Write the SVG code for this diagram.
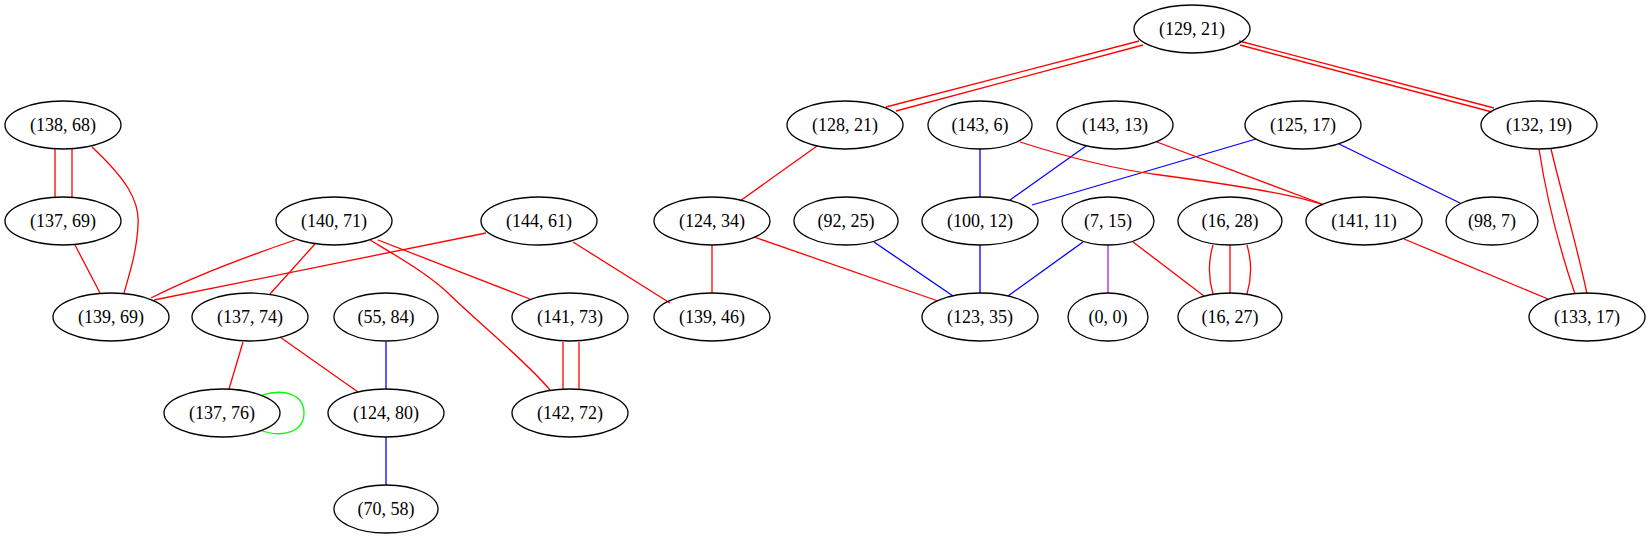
<svg xmlns="http://www.w3.org/2000/svg" width="1651" height="539" viewBox="0 0 1651 539">
<style>
.n ellipse{fill:none;stroke:#000;stroke-width:1.3}
.n text{font-family:"Liberation Serif","Times New Roman",serif;font-size:18px;text-anchor:middle;fill:#000}
#edges path{fill:none;stroke-width:1.3}
.r{stroke:#ff0000}.b{stroke:#0000ff}.g{stroke:#00ff00}.p{stroke:#a020f0}
</style>
<rect width="1651" height="539" fill="#fff"/>
<g id="edges">
<path class="r" d="M1139,41 L886,107"/>
<path class="r" d="M1143,45 L896,111"/>
<path class="r" d="M1239,41 L1494,108"/>
<path class="r" d="M1240,45 L1492,112"/>
<path class="r" d="M55,149 L55,198"/>
<path class="r" d="M72,149 L72,198"/>
<path class="r" d="M92,147 C125,178 140,200 138,225 C137,250 130,272 124,293"/>
<path class="r" d="M75,245 L100,293"/>
<path class="r" d="M295,240 Q204,271 151,298"/>
<path class="r" d="M486,233 L154,300"/>
<path class="r" d="M315,244 L270,294"/>
<path class="r" d="M378,240 L530,299"/>
<path class="r" d="M370,240 C395,255 425,272 447,292 C475,320 525,360 550,390"/>
<path class="r" d="M573,242 L670,303"/>
<path class="r" d="M243,342 L229,389"/>
<path class="r" d="M280,337 L358,392"/>
<path class="g" d="M262,395 C285,388 304,395 304,413 C304,431 285,438 262,431"/>
<path class="b" d="M386,342 L386,389"/>
<path class="b" d="M386,437 L386,485"/>
<path class="r" d="M563,342 L563,389"/>
<path class="r" d="M579,342 L579,389"/>
<path class="r" d="M817,146 L740,201"/>
<path class="r" d="M712,245 L712,293"/>
<path class="r" d="M754,237 L938,301"/>
<path class="b" d="M874,242 L953,296"/>
<path class="b" d="M980,149 L980,197"/>
<path class="b" d="M1086,146 L1010,200"/>
<path class="b" d="M1256,139 L1032,205"/>
<path class="r" d="M1020,142 C1070,158 1120,170 1160,175 C1250,187 1300,196 1323,205"/>
<path class="r" d="M1157,142 L1322,204"/>
<path class="b" d="M1339,144 L1460,203"/>
<path class="b" d="M980,245 L980,293"/>
<path class="b" d="M1083,242 L1008,296"/>
<path class="p" d="M1108,245 L1108,293"/>
<path class="r" d="M1133,242 L1204,296"/>
<path class="r" d="M1213,245 C1208,262 1208,277 1213,294"/>
<path class="r" d="M1230,245 L1230,294"/>
<path class="r" d="M1247,245 C1252,262 1252,277 1247,294"/>
<path class="r" d="M1404,239 L1548,299"/>
<path class="r" d="M1539,149 C1546,195 1560,250 1575,294"/>
<path class="r" d="M1551,149 C1562,195 1578,250 1587,294"/>
</g>
<g id="n129_21" class="n"><ellipse cx="1192" cy="29" rx="58" ry="24"/><text x="1192" y="35">(129, 21)</text></g>
<g id="n138_68" class="n"><ellipse cx="63" cy="125" rx="58" ry="24"/><text x="63" y="131">(138, 68)</text></g>
<g id="n128_21" class="n"><ellipse cx="845" cy="125" rx="58" ry="24"/><text x="845" y="131">(128, 21)</text></g>
<g id="n143_6" class="n"><ellipse cx="980" cy="125" rx="52" ry="24"/><text x="980" y="131">(143, 6)</text></g>
<g id="n143_13" class="n"><ellipse cx="1115" cy="125" rx="58" ry="24"/><text x="1115" y="131">(143, 13)</text></g>
<g id="n125_17" class="n"><ellipse cx="1303" cy="125" rx="58" ry="24"/><text x="1303" y="131">(125, 17)</text></g>
<g id="n132_19" class="n"><ellipse cx="1539" cy="125" rx="58" ry="24"/><text x="1539" y="131">(132, 19)</text></g>
<g id="n137_69" class="n"><ellipse cx="63" cy="221" rx="58" ry="24"/><text x="63" y="227">(137, 69)</text></g>
<g id="n140_71" class="n"><ellipse cx="334" cy="221" rx="58" ry="24"/><text x="334" y="227">(140, 71)</text></g>
<g id="n144_61" class="n"><ellipse cx="539" cy="221" rx="58" ry="24"/><text x="539" y="227">(144, 61)</text></g>
<g id="n124_34" class="n"><ellipse cx="712" cy="221" rx="58" ry="24"/><text x="712" y="227">(124, 34)</text></g>
<g id="n92_25" class="n"><ellipse cx="846" cy="221" rx="52" ry="24"/><text x="846" y="227">(92, 25)</text></g>
<g id="n100_12" class="n"><ellipse cx="980" cy="221" rx="58" ry="24"/><text x="980" y="227">(100, 12)</text></g>
<g id="n7_15" class="n"><ellipse cx="1108" cy="221" rx="46" ry="24"/><text x="1108" y="227">(7, 15)</text></g>
<g id="n16_28" class="n"><ellipse cx="1230" cy="221" rx="52" ry="24"/><text x="1230" y="227">(16, 28)</text></g>
<g id="n141_11" class="n"><ellipse cx="1364" cy="221" rx="58" ry="24"/><text x="1364" y="227">(141, 11)</text></g>
<g id="n98_7" class="n"><ellipse cx="1492" cy="221" rx="46" ry="24"/><text x="1492" y="227">(98, 7)</text></g>
<g id="n139_69" class="n"><ellipse cx="111" cy="317" rx="58" ry="24"/><text x="111" y="323">(139, 69)</text></g>
<g id="n137_74" class="n"><ellipse cx="250" cy="317" rx="58" ry="24"/><text x="250" y="323">(137, 74)</text></g>
<g id="n55_84" class="n"><ellipse cx="386" cy="317" rx="52" ry="24"/><text x="386" y="323">(55, 84)</text></g>
<g id="n141_73" class="n"><ellipse cx="570" cy="317" rx="58" ry="24"/><text x="570" y="323">(141, 73)</text></g>
<g id="n139_46" class="n"><ellipse cx="712" cy="317" rx="58" ry="24"/><text x="712" y="323">(139, 46)</text></g>
<g id="n123_35" class="n"><ellipse cx="980" cy="317" rx="58" ry="24"/><text x="980" y="323">(123, 35)</text></g>
<g id="n0_0" class="n"><ellipse cx="1108" cy="317" rx="40" ry="24"/><text x="1108" y="323">(0, 0)</text></g>
<g id="n16_27" class="n"><ellipse cx="1230" cy="317" rx="52" ry="24"/><text x="1230" y="323">(16, 27)</text></g>
<g id="n133_17" class="n"><ellipse cx="1587" cy="317" rx="58" ry="24"/><text x="1587" y="323">(133, 17)</text></g>
<g id="n137_76" class="n"><ellipse cx="222" cy="413" rx="58" ry="24"/><text x="222" y="419">(137, 76)</text></g>
<g id="n124_80" class="n"><ellipse cx="386" cy="413" rx="58" ry="24"/><text x="386" y="419">(124, 80)</text></g>
<g id="n142_72" class="n"><ellipse cx="570" cy="413" rx="58" ry="24"/><text x="570" y="419">(142, 72)</text></g>
<g id="n70_58" class="n"><ellipse cx="386" cy="509" rx="52" ry="24"/><text x="386" y="515">(70, 58)</text></g>
</svg>
